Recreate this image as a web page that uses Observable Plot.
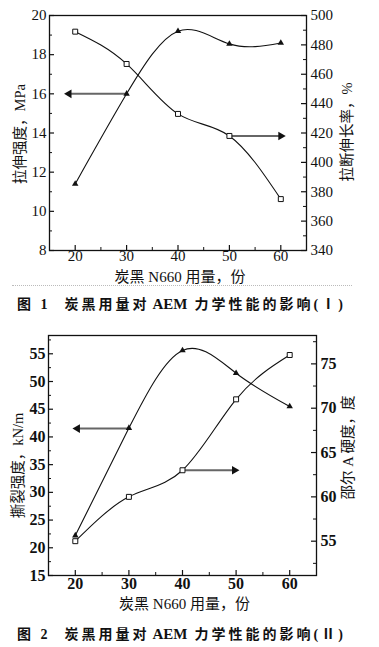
<!DOCTYPE html>
<html><head><meta charset="utf-8">
<script src="https://cdn.jsdelivr.net/npm/d3@7"></script>
<script src="https://cdn.jsdelivr.net/npm/@observablehq/plot@0.6"></script>
<style>
html,body{margin:0;padding:0;background:#fff;}
body{width:379px;height:647px;position:relative;overflow:hidden;font-family:"Liberation Serif","Noto Sans CJK SC",serif;color:#111;}
.fig{position:absolute;left:0;}
.cap{position:absolute;left:17px;font-weight:bold;font-size:14px;letter-spacing:3px;white-space:nowrap;line-height:18px;font-family:"Liberation Serif","Noto Sans CJK SC",serif;}
.cap .b{margin-left:14px;}
.cap .l{letter-spacing:0;font-size:15px;margin:0 7px 0 3px;}
.sep{position:absolute;left:12px;width:340px;top:285px;border-top:1px dotted #bbb;}
</style></head>
<body>
<div id="f1" class="fig" style="top:0px"></div>
<div class="sep"></div>
<div class="cap" style="top:295px">图 1<span class="b">炭黑用量对<span class="l">AEM</span>力学性能的影响(Ⅰ)</span></div>
<div id="f2" class="fig" style="top:320px"></div>
<div class="cap" style="top:625px">图 2<span class="b">炭黑用量对<span class="l">AEM</span>力学性能的影响(Ⅱ)</span></div>
<script>
// ---- data ----
const carbon = [20, 30, 40, 50, 60];
const xTicks = [20, 30, 40, 50, 60];
const xMinor = [25, 35, 45, 55];
const xLabel = "炭黑 N660 用量，份";

// Figure 1
const tensile = [11.4, 16.0, 19.2, 18.55, 18.6];          // MPa, left axis (triangles)
const elongation = [489, 467, 433, 418, 375];             // %, right axis (squares)
const tensileTicks = [8, 10, 12, 14, 16, 18, 20];
const tensileMinor = [9, 11, 13, 15, 17, 19];
const elongTicks = [340, 360, 380, 400, 420, 440, 460, 480, 500];
const elongMinor = [350, 370, 390, 410, 430, 450, 470, 490];
const fig1ArrowFrom = [30, 50];
const fig1ArrowTo = [18.8, 60];
const fig1ArrowLevel = [16, 418];
const fig1ArrowAxis = ["left", "right"];

// Figure 2
const tear = [22.2, 41.6, 55.6, 51.5, 45.5];              // kN/m, left axis (triangles)
const hardness = [55, 60, 63, 71, 76];                    // Shore A, right axis (squares)
const tearTicks = [15, 20, 25, 30, 35, 40, 45, 50, 55];
const tearMinor = [17.5, 22.5, 27.5, 32.5, 37.5, 42.5, 47.5, 52.5, 57.5];
const hardTicks = [55, 60, 65, 70, 75];
const hardMinor = [52.5, 57.5, 62.5, 67.5, 72.5, 77.5];
const fig2ArrowFrom = [30, 40];
const fig2ArrowTo = [20.4, 49.7];
const fig2ArrowLevel = [41.5, 63];
const fig2ArrowAxis = ["left", "right"];

const W = 379;

function build(o) {
  const toL = d3.scaleLinear().domain(o.rDomain).range(o.lDomain);
  const iw = W - o.mL - o.mR, ih = o.height - o.mT - o.mB;
  const leftRows = carbon.map((x, i) => ({x, y: o.left[i]}));
  const rightRows = carbon.map((x, i) => ({x, y: toL(o.right[i])}));
  const arrows = o.aFrom.map((x1, i) => ({
    x1, x2: o.aTo[i],
    y: o.aAxis[i] === "left" ? o.aLevel[i] : toL(o.aLevel[i])
  }));
  const ink = "#111";
  return Plot.plot({
    width: W, height: o.height,
    marginLeft: o.mL, marginRight: o.mR, marginTop: o.mT, marginBottom: o.mB,
    style: {fontFamily: "'Liberation Serif','Noto Sans CJK SC',serif", fontSize: o.fs + "px", color: ink, background: "transparent", overflow: "visible"},
    x: {domain: [15, 65]},
    y: {domain: o.lDomain},
    marks: [
      Plot.frame({stroke: ink, strokeWidth: 1.3}),
      Plot.axisX(xTicks, {tickSize: 0, tickPadding: o.xPad, label: null, fontWeight: o.fw}),
      Plot.axisY(o.lTicks, {anchor: "left", tickSize: 0, tickPadding: 3, label: null, fontWeight: o.fw}),
      Plot.axisY(o.rTicks.map(toL), {anchor: "right", tickSize: 0, tickPadding: 4, label: null, fontWeight: o.fw,
        tickFormat: d => Math.round(toL.invert(d))}),
      // inward ticks
      Plot.tickX(xTicks, {x: d => d, insetTop: ih - 5, stroke: ink, strokeWidth: 1.2}),
      Plot.tickX(xMinor, {x: d => d, insetTop: ih - 3, stroke: ink}),
      Plot.tickY(o.lTicks, {y: d => d, insetRight: iw - 5, stroke: ink, strokeWidth: 1.2}),
      Plot.tickY(o.lMinor, {y: d => d, insetRight: iw - 3, stroke: ink}),
      Plot.tickY(o.rTicks.map(toL), {y: d => d, insetLeft: iw - 5, stroke: ink, strokeWidth: 1.2}),
      Plot.tickY(o.rMinor.map(toL), {y: d => d, insetLeft: iw - 3, stroke: ink}),
      // series
      Plot.line(leftRows, {x: "x", y: "y", curve: "natural", stroke: ink, strokeWidth: 1.1}),
      Plot.line(rightRows, {x: "x", y: "y", curve: "natural", stroke: ink, strokeWidth: 1.1}),
      // arrows
      Plot.link(arrows, {x1: "x1", x2: "x2", y1: "y", y2: "y", stroke: "#666", strokeWidth: 2}),
      Plot.dot(arrows, {x: "x2", y: "y", symbol: "triangle", rotate: d => d.x2 < d.x1 ? -90 : 90, r: 3.2, fill: ink, stroke: "none"}),
      Plot.dot(leftRows, {x: "x", y: "y", symbol: "triangle", r: 2.4, fill: ink, stroke: "none"}),
      Plot.dot(rightRows, {x: "x", y: "y", symbol: "square", r: 2.8, fill: "white", stroke: ink, strokeWidth: 1}),
      // labels
      Plot.text([o.yLabelL], {text: d => d, frameAnchor: "left", textAnchor: "middle", lineAnchor: "middle", rotate: -90, dx: o.lDx, dy: o.lDy, fontSize: 14.5}),
      Plot.text([o.yLabelR], {text: d => d, frameAnchor: "right", textAnchor: "middle", lineAnchor: "middle", rotate: -90, dx: o.rDx, dy: o.rDy, fontSize: 14.5}),
      Plot.text([xLabel], {text: d => d, frameAnchor: "bottom", textAnchor: "middle", lineAnchor: "middle", dy: o.xlDy, dx: 2, fontSize: 15})
    ]
  });
}

document.getElementById("f1").append(build({
  height: 290, mL: 49, mR: 73, mT: 15, mB: 40,
  lDomain: [8, 20], rDomain: [340, 500],
  lTicks: tensileTicks, lMinor: tensileMinor, rTicks: elongTicks, rMinor: elongMinor,
  left: tensile, right: elongation,
  aFrom: fig1ArrowFrom, aTo: fig1ArrowTo, aLevel: fig1ArrowLevel, aAxis: fig1ArrowAxis,
  yLabelL: "拉伸强度，MPa", yLabelR: "拉断伸长率，%",
  lDx: -29, lDy: 1, rDx: 41, rDy: -1, xlDy: 27, xPad: 0, fs: 15, fw: "normal"
}));

document.getElementById("f2").append(build({
  height: 300, mL: 48, mR: 63, mT: 15, mB: 45,
  lDomain: [15, 58.3], rDomain: [51.13, 78.2],
  lTicks: tearTicks, lMinor: tearMinor, rTicks: hardTicks, rMinor: hardMinor,
  left: tear, right: hardness,
  aFrom: fig2ArrowFrom, aTo: fig2ArrowTo, aLevel: fig2ArrowLevel, aAxis: fig2ArrowAxis,
  yLabelL: "撕裂强度，kN/m", yLabelR: "邵尔 A 硬度，度",
  lDx: -30, lDy: 10, rDx: 32, rDy: -8, xlDy: 29, xPad: 2, fs: 16, fw: "bold"
}));
</script>
</body></html>
